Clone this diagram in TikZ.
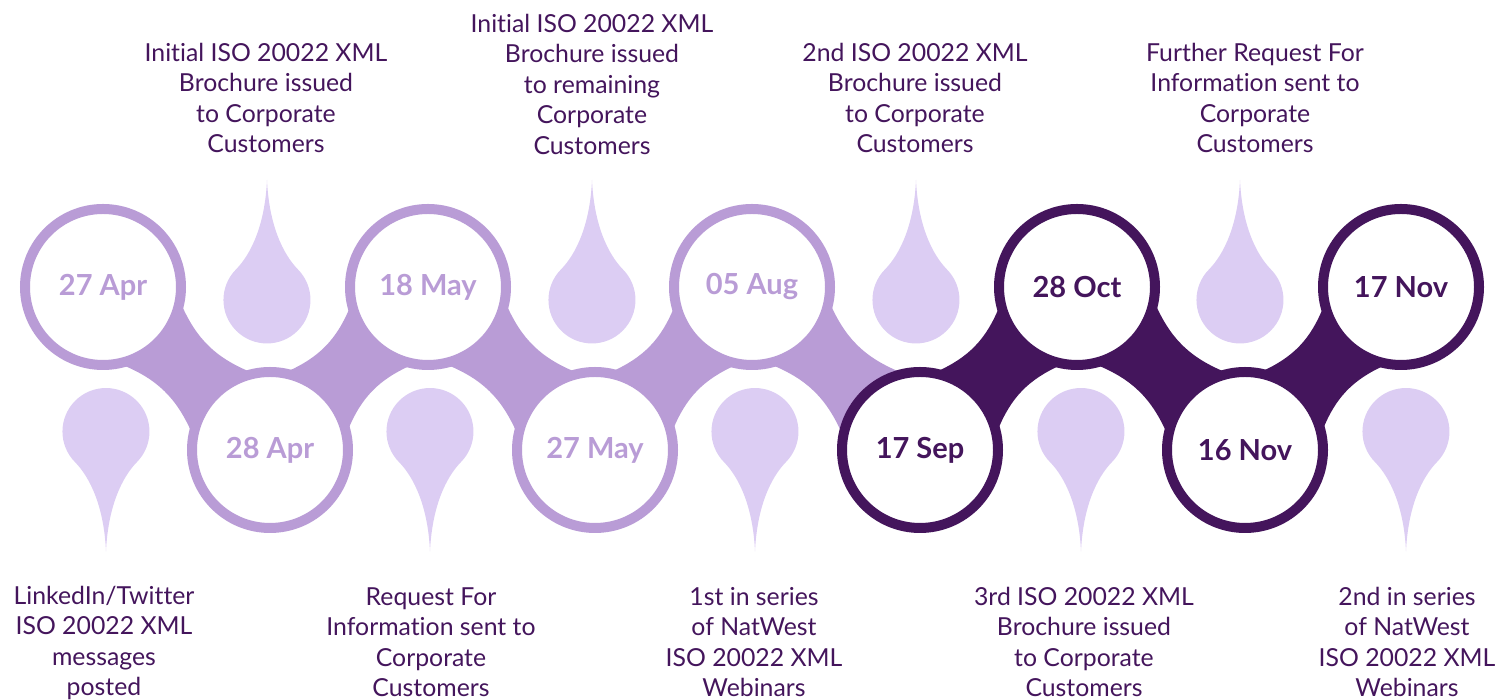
\documentclass[tikz,border=0pt]{standalone}
\usepackage{fontspec}
\setmainfont{Lato}[Ligatures=NoCommon]
\usepackage{tikz}
\usetikzlibrary{calc, positioning}
\definecolor{lilac}{RGB}{185,156,214}
\definecolor{paledrop}{RGB}{220,205,243}
\definecolor{plum}{RGB}{68,21,92}

\tikzset{
    datering/.style={circle, minimum size=78pt, line width=5pt, fill=white, inner sep=0pt,
        font=\fontsize{14.5}{17}\selectfont\bfseries},
    eventtext/.style={align=center, text=plum, inner sep=0pt,
        font=\fontsize{12.4}{15.25}\selectfont},
}

\begin{document}
\begin{tikzpicture}[x=0.5pt, y=0.5pt]
    \useasboundingbox (0,0) rectangle (1495,700);

    % Centres of the date rings
    \foreach \name/\x/\y in {t1/103/413, b1/270/250, t2/428/413, b2/595/250, t3/752/413,
                             b3/920/250, t4/1077/413, b4/1245/250, t5/1401/413}
        \coordinate (\name) at (\x,\y);

    % Bridges between the rings
    \foreach \a/\b/\col in {t1/b1/lilac, b1/t2/lilac, t2/b2/lilac, b2/t3/lilac, t3/b3/lilac,
                            b3/t4/plum, t4/b4/plum, b4/t5/plum}
        \fill[\col] ($(\a)!40pt!32:(\b)$) to[bend right=22] ($(\b)!40pt!-32:(\a)$)
            -- ($(\b)!40pt!32:(\a)$) to[bend right=22] ($(\a)!40pt!-32:(\b)$) -- cycle;

    % Drops pointing up
    \foreach \x in {267, 592, 916, 1240}
        \fill[paledrop, shift={(\x,400)}] (0,120) .. controls (-2,75) and (-16,46) .. (-30.8,30.8)
            arc[start angle=135, end angle=405, radius=43.5] .. controls (16,46) and (2,75) .. (0,120) -- cycle;

    % Drops pointing down
    \foreach \x in {106, 430, 755, 1081, 1406}
        \fill[paledrop, shift={(\x,268.5)}, yscale=-1] (0,120) .. controls (-2,75) and (-16,46) .. (-30.8,30.8)
            arc[start angle=135, end angle=405, radius=43.5] .. controls (16,46) and (2,75) .. (0,120) -- cycle;

    % Dates
    \foreach \name/\date/\col in {t1/27 Apr/lilac, b1/28 Apr/lilac, t2/18 May/lilac, b2/27 May/lilac,
                                  t3/05 Aug/lilac, b3/17 Sep/plum, t4/28 Oct/plum, b4/16 Nov/plum, t5/17 Nov/plum}
        \node[datering, draw=\col, text=\col] (date-\name) at (\name) {\date};

    % Events above
    \node[eventtext] (ev-t1) at (266,602) {Initial ISO 20022 XML\\Brochure issued\\to Corporate\\Customers};
    \node[eventtext] (ev-t2) at (592,616) {Initial ISO 20022 XML\\Brochure issued\\to remaining\\Corporate\\Customers};
    \node[eventtext] (ev-t3) at (915,602) {2nd ISO 20022 XML\\Brochure issued\\to Corporate\\Customers};
    \node[eventtext] (ev-t4) at (1255,602) {Further Request For\\Information sent to\\Corporate\\Customers};

    % Events below
    \node[eventtext] (ev-b1) at (104,57) {LinkedIn/Twitter\\ISO 20022 XML\\messages\\posted};
    \node[eventtext] (ev-b2) at (431,58) {Request For\\Information sent to\\Corporate\\Customers};
    \node[eventtext] (ev-b3) at (754,58) {1st in series\\of NatWest\\ISO 20022 XML\\Webinars};
    \node[eventtext] (ev-b4) at (1084,58) {3rd ISO 20022 XML\\Brochure issued\\to Corporate\\Customers};
    \node[eventtext] (ev-b5) at (1407,58) {2nd in series\\of NatWest\\ISO 20022 XML\\Webinars};
\end{tikzpicture}
\end{document}
